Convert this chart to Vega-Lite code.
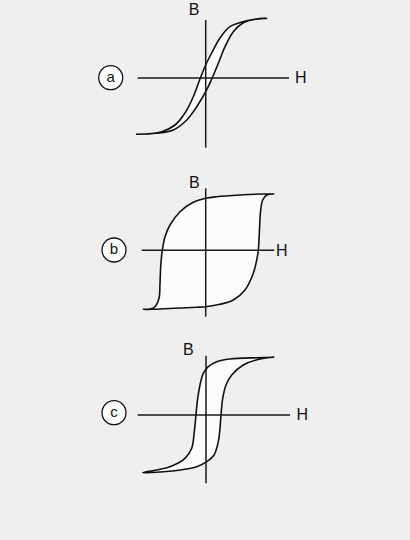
{
  "$schema": "https://vega.github.io/schema/vega-lite/v6.json",
  "width": 410,
  "height": 540,
  "padding": 0,
  "autosize": {"type": "fit", "contains": "padding"},
  "background": "#efefef",
  "config": {"view": {"stroke": null}, "font": "Liberation Sans"},
  "datasets": {
    "loops": [
      {"panel": "a", "i": 0, "x": 136, "y": 134.3},
      {"panel": "a", "i": 1, "x": 156.7, "y": 133.3},
      {"panel": "a", "i": 2, "x": 173.3, "y": 130},
      {"panel": "a", "i": 3, "x": 186.7, "y": 120},
      {"panel": "a", "i": 4, "x": 196.7, "y": 106.7},
      {"panel": "a", "i": 5, "x": 205.7, "y": 91.7},
      {"panel": "a", "i": 6, "x": 211.7, "y": 79},
      {"panel": "a", "i": 7, "x": 218.3, "y": 63.3},
      {"panel": "a", "i": 8, "x": 225, "y": 46.7},
      {"panel": "a", "i": 9, "x": 233.3, "y": 31.7},
      {"panel": "a", "i": 10, "x": 243.3, "y": 22.7},
      {"panel": "a", "i": 11, "x": 256.7, "y": 19},
      {"panel": "a", "i": 12, "x": 266.7, "y": 18.3},
      {"panel": "a", "i": 13, "x": 246.7, "y": 20.7},
      {"panel": "a", "i": 14, "x": 230, "y": 26.7},
      {"panel": "a", "i": 15, "x": 220, "y": 38},
      {"panel": "a", "i": 16, "x": 211.7, "y": 53},
      {"panel": "a", "i": 17, "x": 205.7, "y": 65},
      {"panel": "a", "i": 18, "x": 200, "y": 79},
      {"panel": "a", "i": 19, "x": 193.3, "y": 96.7},
      {"panel": "a", "i": 20, "x": 185, "y": 113},
      {"panel": "a", "i": 21, "x": 175, "y": 125},
      {"panel": "a", "i": 22, "x": 161.7, "y": 131.7},
      {"panel": "a", "i": 23, "x": 136, "y": 134.3},

      {"panel": "b", "i": 0, "x": 274.3, "y": 194},
      {"panel": "b", "i": 1, "x": 263.3, "y": 194},
      {"panel": "b", "i": 2, "x": 240, "y": 195},
      {"panel": "b", "i": 3, "x": 216.7, "y": 196.7},
      {"panel": "b", "i": 4, "x": 205.7, "y": 198.3},
      {"panel": "b", "i": 5, "x": 193.3, "y": 202.3},
      {"panel": "b", "i": 6, "x": 180, "y": 211.7},
      {"panel": "b", "i": 7, "x": 170, "y": 225},
      {"panel": "b", "i": 8, "x": 165, "y": 236.7},
      {"panel": "b", "i": 9, "x": 162.3, "y": 250.3},
      {"panel": "b", "i": 10, "x": 160.7, "y": 266.7},
      {"panel": "b", "i": 11, "x": 160, "y": 283.3},
      {"panel": "b", "i": 12, "x": 159, "y": 298.3},
      {"panel": "b", "i": 13, "x": 155, "y": 306.7},
      {"panel": "b", "i": 14, "x": 150, "y": 309},
      {"panel": "b", "i": 15, "x": 143.3, "y": 309.3},
      {"panel": "b", "i": 16, "x": 151.7, "y": 309.3},
      {"panel": "b", "i": 17, "x": 173.3, "y": 308.3},
      {"panel": "b", "i": 18, "x": 196.7, "y": 307.3},
      {"panel": "b", "i": 19, "x": 205.7, "y": 306.7},
      {"panel": "b", "i": 20, "x": 220, "y": 304.3},
      {"panel": "b", "i": 21, "x": 233.3, "y": 300},
      {"panel": "b", "i": 22, "x": 245, "y": 290},
      {"panel": "b", "i": 23, "x": 253.3, "y": 273.3},
      {"panel": "b", "i": 24, "x": 256.7, "y": 260},
      {"panel": "b", "i": 25, "x": 258.3, "y": 250.3},
      {"panel": "b", "i": 26, "x": 259.3, "y": 233.3},
      {"panel": "b", "i": 27, "x": 260.7, "y": 210},
      {"panel": "b", "i": 28, "x": 262.7, "y": 200},
      {"panel": "b", "i": 29, "x": 266.7, "y": 195},
      {"panel": "b", "i": 30, "x": 274.3, "y": 194},

      {"panel": "c", "i": 0, "x": 274.3, "y": 357.3},
      {"panel": "c", "i": 1, "x": 256.7, "y": 357.7},
      {"panel": "c", "i": 2, "x": 230, "y": 359},
      {"panel": "c", "i": 3, "x": 216.7, "y": 361.7},
      {"panel": "c", "i": 4, "x": 208.3, "y": 366.7},
      {"panel": "c", "i": 5, "x": 203.3, "y": 373.3},
      {"panel": "c", "i": 6, "x": 200, "y": 385},
      {"panel": "c", "i": 7, "x": 197.3, "y": 401.7},
      {"panel": "c", "i": 8, "x": 196, "y": 415},
      {"panel": "c", "i": 9, "x": 194.3, "y": 431.7},
      {"panel": "c", "i": 10, "x": 191.7, "y": 448.3},
      {"panel": "c", "i": 11, "x": 185, "y": 458.3},
      {"panel": "c", "i": 12, "x": 170, "y": 466.7},
      {"panel": "c", "i": 13, "x": 156.7, "y": 470},
      {"panel": "c", "i": 14, "x": 142.7, "y": 472.7},
      {"panel": "c", "i": 15, "x": 156.7, "y": 472.3},
      {"panel": "c", "i": 16, "x": 180, "y": 470},
      {"panel": "c", "i": 17, "x": 196.7, "y": 466.7},
      {"panel": "c", "i": 18, "x": 206.7, "y": 461.7},
      {"panel": "c", "i": 19, "x": 214, "y": 455},
      {"panel": "c", "i": 20, "x": 218.3, "y": 441.7},
      {"panel": "c", "i": 21, "x": 220, "y": 428.3},
      {"panel": "c", "i": 22, "x": 221, "y": 415},
      {"panel": "c", "i": 23, "x": 222.7, "y": 398.3},
      {"panel": "c", "i": 24, "x": 226, "y": 385},
      {"panel": "c", "i": 25, "x": 231.7, "y": 375},
      {"panel": "c", "i": 26, "x": 243.3, "y": 365},
      {"panel": "c", "i": 27, "x": 260, "y": 359},
      {"panel": "c", "i": 28, "x": 274.3, "y": 357.3}
    ],
    "axes": [
      {"panel": "a", "x": 137.7, "x2": 289, "y": 78, "y2": 78},
      {"panel": "a", "x": 205.7, "x2": 205.7, "y": 20, "y2": 147.7},
      {"panel": "b", "x": 141.7, "x2": 274.3, "y": 250.3, "y2": 250.3},
      {"panel": "b", "x": 205.7, "x2": 205.7, "y": 188.3, "y2": 316.7},
      {"panel": "c", "x": 137.7, "x2": 290, "y": 415, "y2": 415},
      {"panel": "c", "x": 206, "x2": 206, "y": 355.7, "y2": 483.3}
    ],
    "labels": [
      {"panel": "a", "text": "B", "x": 194, "y": 10},
      {"panel": "a", "text": "H", "x": 300.7, "y": 78},
      {"panel": "b", "text": "B", "x": 194.3, "y": 183.3},
      {"panel": "b", "text": "H", "x": 281.7, "y": 251},
      {"panel": "c", "text": "B", "x": 188.3, "y": 350},
      {"panel": "c", "text": "H", "x": 302.3, "y": 415}
    ],
    "circles": [
      {"panel": "a", "text": "a", "x": 110.7, "y": 77.7},
      {"panel": "b", "text": "b", "x": 114, "y": 250},
      {"panel": "c", "text": "c", "x": 114, "y": 412.7}
    ]
  },
  "layer": [
    {
      "data": {"name": "loops"},
      "mark": {"type": "line", "fill": "#fcfcfc", "stroke": "#111111", "strokeWidth": 1.6, "interpolate": "catmull-rom"},
      "encoding": {
        "x": {"field": "x", "type": "quantitative", "scale": {"domain": [0, 410], "nice": false, "zero": false}, "axis": null},
        "y": {"field": "y", "type": "quantitative", "scale": {"domain": [0, 540], "nice": false, "zero": false, "reverse": true}, "axis": null},
        "detail": {"field": "panel"},
        "order": {"field": "i", "type": "quantitative"}
      }
    },
    {
      "data": {"name": "axes"},
      "mark": {"type": "rule", "stroke": "#1a1a1a", "strokeWidth": 1.5},
      "encoding": {
        "x": {"field": "x", "type": "quantitative"},
        "x2": {"field": "x2"},
        "y": {"field": "y", "type": "quantitative"},
        "y2": {"field": "y2"}
      }
    },
    {
      "data": {"name": "labels"},
      "mark": {"type": "text", "fontSize": 16, "color": "#111111", "align": "center", "baseline": "middle"},
      "encoding": {
        "x": {"field": "x", "type": "quantitative"},
        "y": {"field": "y", "type": "quantitative"},
        "text": {"field": "text"}
      }
    },
    {
      "data": {"name": "circles"},
      "mark": {"type": "point", "shape": "circle", "size": 576, "filled": false, "fill": "#ffffff", "fillOpacity": 1, "stroke": "#111111", "strokeWidth": 1.3, "opacity": 1},
      "encoding": {
        "x": {"field": "x", "type": "quantitative"},
        "y": {"field": "y", "type": "quantitative"}
      }
    },
    {
      "data": {"name": "circles"},
      "mark": {"type": "text", "fontSize": 15, "color": "#111111", "align": "center", "baseline": "middle", "dy": -1},
      "encoding": {
        "x": {"field": "x", "type": "quantitative"},
        "y": {"field": "y", "type": "quantitative"},
        "text": {"field": "text"}
      }
    }
  ]
}
